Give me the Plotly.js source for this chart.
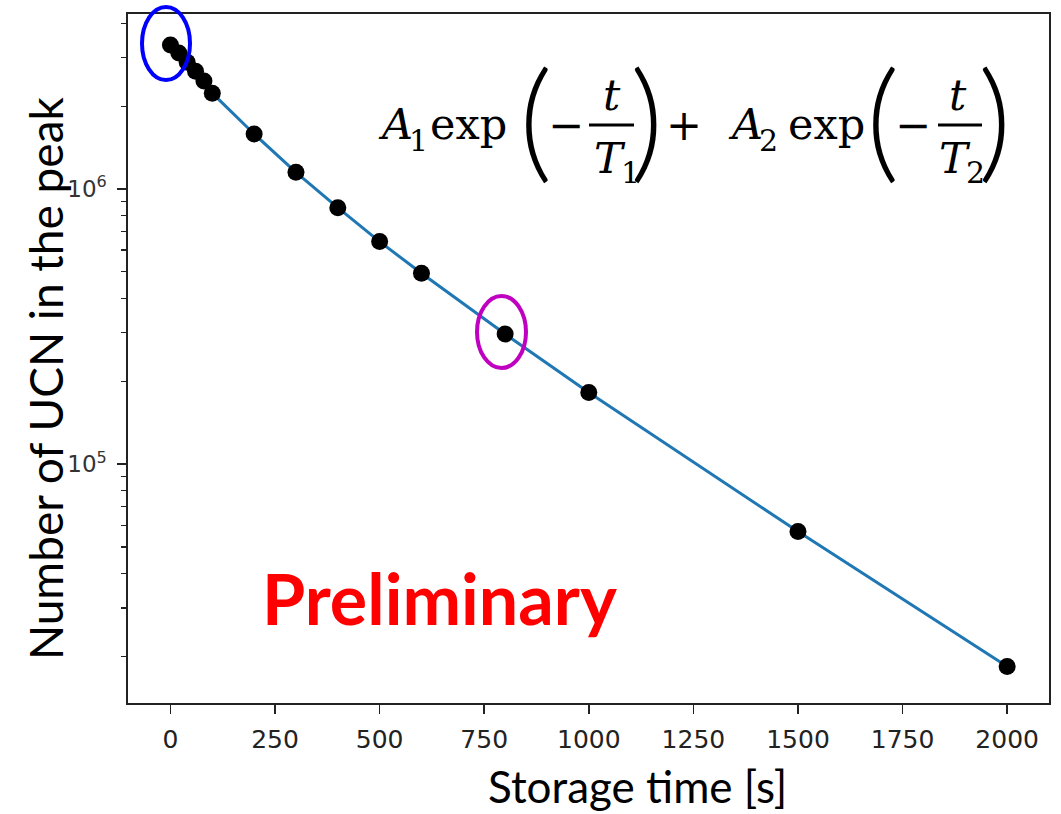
<!DOCTYPE html>
<html>
<head>
<meta charset="utf-8">
<script src="https://cdn.plot.ly/plotly-3.0.1.min.js"></script>
<style>html,body{margin:0;padding:0;background:#fff;}#chart{width:1061px;height:814px;}</style>
</head>
<body>
<div id="chart"></div>
<script>
// ---- data ----
const storageTimes = [0, 20, 40, 60, 80, 100, 200, 300, 400, 500, 600, 800, 1000, 1500, 2000];
const ucnCounts = [3.34e6, 3.12e6, 2.89e6, 2.68e6, 2.47e6, 2.23e6, 1.585e6, 1.15e6, 8.55e5, 6.44e5, 4.94e5, 2.97e5, 1.82e5, 5.69e4, 1.84e4];
const xTickVals = [0, 250, 500, 750, 1000, 1250, 1500, 1750, 2000];
const yTickVals = [1e5, 1e6];
const yTickText = ['10<sup>5</sup>', '10<sup>6</sup>'];
const yMinorVals = [2e4, 3e4, 4e4, 5e4, 6e4, 7e4, 8e4, 9e4,
                    2e5, 3e5, 4e5, 5e5, 6e5, 7e5, 8e5, 9e5,
                    2e6, 3e6, 4e6];
const xTitle = 'Storage time [s]';
const yTitle = 'Number of UCN in the peak';
const stampText = 'Preliminary';

// ---- layout helpers (pixel -> paper) ----
const M = {l: 128, r: 12, t: 14, b: 111};
const W = 1061, H = 814;
const PW = W - M.l - M.r, PH = H - M.t - M.b;
const px = v => (v - M.l) / PW;
const py = v => (H - M.b - v) / PH;

const serif = 'DejaVu Serif';
const mathSize = 43;
function ann(text, x, y, opts) {
  return Object.assign({
    text: text, xref: 'paper', yref: 'paper', x: px(x), y: py(y),
    xanchor: 'center', yanchor: 'middle', showarrow: false,
    font: {family: serif, size: mathSize, color: '#000'}
  }, opts || {});
}
const parenFont = {family: 'Lato', size: 130, weight: 300, color: '#000'};
const subFont = {family: serif, size: 30, color: '#000'};

const annotations = [
  // formula: A1 exp(-t/T1) + A2 exp(-t/T2)
  ann('<i>A</i>', 376, 124, {xanchor: 'left'}),
  ann('1', 407, 140, {xanchor: 'left', font: subFont}),
  ann('exp', 428, 124, {xanchor: 'left'}),
  ann('(', 536, 116, {font: parenFont}),
  ann('\u2212', 566, 125),
  ann('<i>t</i>', 612, 95),
  ann('<i>T</i>', 592, 158, {xanchor: 'left'}),
  ann('1', 619, 172, {xanchor: 'left', font: subFont}),
  ann(')', 647, 116, {font: parenFont}),
  ann('+', 684, 125),
  ann('<i>A</i>', 726, 124, {xanchor: 'left'}),
  ann('2', 757, 140, {xanchor: 'left', font: subFont}),
  ann('exp', 786, 124, {xanchor: 'left'}),
  ann('(', 883, 116, {font: parenFont}),
  ann('\u2212', 913, 125),
  ann('<i>t</i>', 958, 95),
  ann('<i>T</i>', 937, 158, {xanchor: 'left'}),
  ann('2', 964, 172, {xanchor: 'left', font: subFont}),
  ann(')', 995, 116, {font: parenFont}),
  // stamp
  ann('<b>' + stampText + '</b>', 439, 598, {font: {family: 'Lato', size: 70, color: '#ff0000'}}),
  // axis titles
  ann(xTitle, 637, 786, {font: {family: 'Lato', size: 44, color: '#000'}}),
  ann(yTitle, 45, 378, {textangle: -90, font: {family: 'Lato', size: 46, color: '#000'}})
];

const shapes = [
  // fraction bars
  {type: 'line', xref: 'paper', yref: 'paper', x0: px(589), x1: px(634), y0: py(125), y1: py(125), line: {color: '#000', width: 3}},
  {type: 'line', xref: 'paper', yref: 'paper', x0: px(938), x1: px(982), y0: py(125), y1: py(125), line: {color: '#000', width: 3}},
  // highlight ellipses
  {type: 'circle', xref: 'paper', yref: 'paper', x0: px(142), x1: px(190), y0: py(7), y1: py(80), line: {color: '#0000ff', width: 4}},
  {type: 'circle', xref: 'paper', yref: 'paper', x0: px(477), x1: px(526), y0: py(296), y1: py(368), line: {color: '#c000c0', width: 4}}
];

const traces = [
  {x: storageTimes, y: ucnCounts, type: 'scatter', mode: 'lines', line: {color: '#1f77b4', width: 3}, hoverinfo: 'skip'},
  {x: storageTimes, y: ucnCounts, type: 'scatter', mode: 'markers', marker: {color: '#000', size: 17}}
];

const layout = {
  width: W, height: H,
  margin: M,
  paper_bgcolor: '#fff', plot_bgcolor: '#fff',
  showlegend: false,
  xaxis: {
    range: [-101.5, 2100],
    tickmode: 'array', tickvals: xTickVals,
    ticks: 'outside', ticklen: 9, tickwidth: 1.5, tickcolor: '#222',
    tickfont: {family: 'DejaVu Sans', size: 25, color: '#222'},
    showline: true, linecolor: '#222', linewidth: 1.6, mirror: true,
    showgrid: false, zeroline: false, ticklabelstandoff: 4
  },
  yaxis: {
    type: 'log',
    range: [4.132, 6.636],
    tickmode: 'array', tickvals: yTickVals, ticktext: yTickText,
    ticks: 'outside', ticklen: 9, tickwidth: 1.5, tickcolor: '#222',
    tickfont: {family: 'DejaVu Sans', size: 23, color: '#333'},
    minor: {tickmode: 'array', tickvals: yMinorVals, ticks: 'outside', ticklen: 5, tickwidth: 1.2, tickcolor: '#222', showgrid: false},
    showline: true, linecolor: '#222', linewidth: 1.6, mirror: true,
    showgrid: false, zeroline: false, ticklabelstandoff: 6
  },
  annotations: annotations,
  shapes: shapes
};

Plotly.newPlot('chart', traces, layout, {displayModeBar: false, staticPlot: true});
</script>
</body>
</html>
